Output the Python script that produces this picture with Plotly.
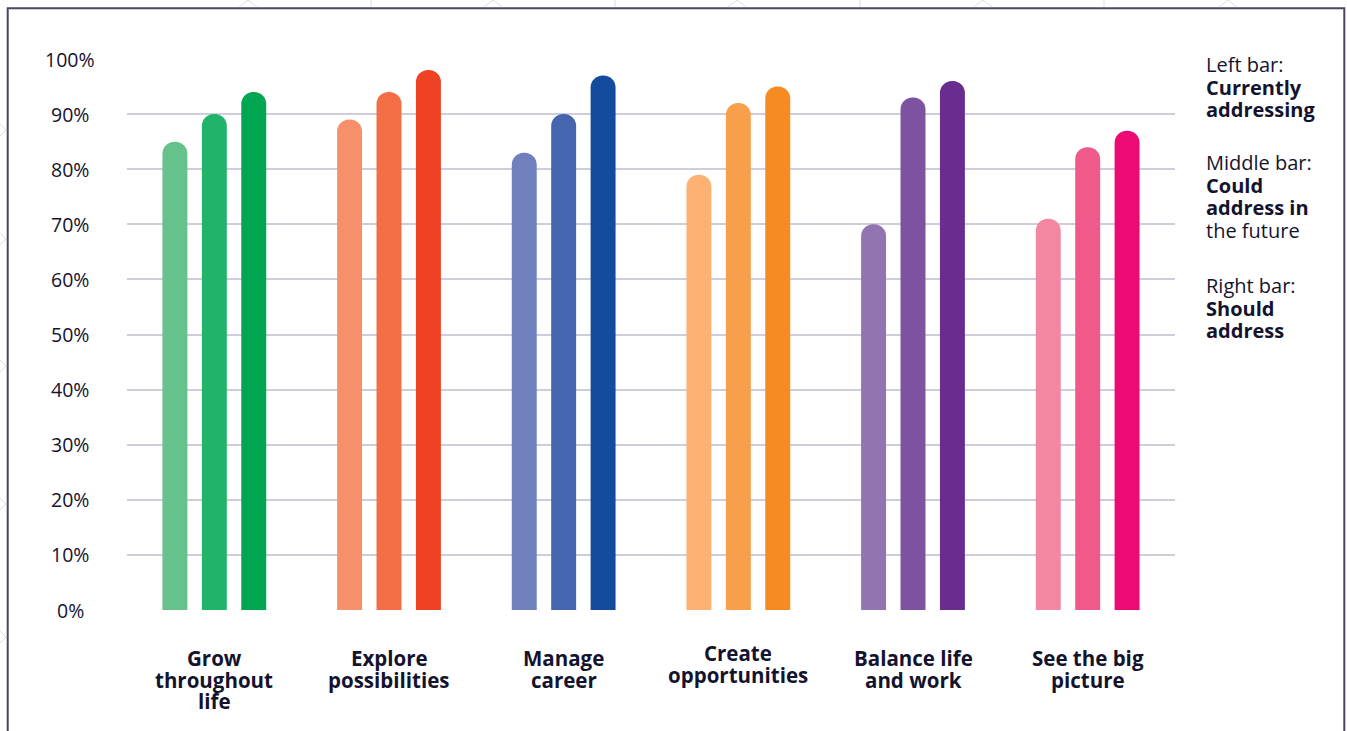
import plotly.graph_objects as go

# ---------------- data ----------------
categories = ["Grow throughout life", "Explore possibilities", "Manage career",
              "Create opportunities", "Balance life and work", "See the big picture"]
category_lines = [["Grow", "throughout", "life"], ["Explore", "possibilities"], ["Manage", "career"],
                  ["Create", "opportunities"], ["Balance life", "and work"], ["See the big", "picture"]]
series_names = ["Currently addressing", "Could address in the future", "Should address"]
currently = [85, 89, 83, 79, 70, 71]
could = [90, 94, 90, 92, 93, 84]
should = [94, 98, 97, 95, 96, 87]
y_ticks = [0, 10, 20, 30, 40, 50, 60, 70, 80, 90, 100]
y_tick_labels = ["0%", "10%", "20%", "30%", "40%", "50%", "60%", "70%", "80%", "90%", "100%"]
legend_blocks = [
    [("Left bar:", False), ("Currently", True), ("addressing", True)],
    [("Middle bar:", False), ("Could", True), ("address in", True), ("the future", False)],
    [("Right bar:", False), ("Should", True), ("address", True)],
]

# ---------------- styles ----------------
colors_left = ["#66c28d", "#f6906a", "#7080bd", "#fbb273", "#9175b0", "#f387a2"]
colors_mid = ["#22b36b", "#f36d45", "#4565ae", "#f89f4b", "#7d52a0", "#f05a8b"]
colors_right = ["#00a651", "#ef4123", "#134c9c", "#f68b24", "#692d8f", "#ec0a74"]
TEXT = "#14132e"
GRID = "#cfcdd9"
FONT = "Open Sans"

W, H = 1347, 731
L, R, T, B = 127, 1175, 59, 610


def px2x(px):
    return (px - L) / (R - L)


def px2y(py):
    return (B - py) / (B - T)


fig = go.Figure()
for name, vals, cols in zip(series_names, [currently, could, should],
                            [colors_left, colors_mid, colors_right]):
    fig.add_trace(go.Bar(x=categories, y=vals, name=name,
                         marker=dict(color=cols, cornerradius="50%", line=dict(width=0)),
                         hoverinfo="x+y"))

annotations = []
# y tick labels (centred around x=70px)
for v, lab in zip(y_ticks, y_tick_labels):
    annotations.append(dict(x=px2x(70), xref="paper", y=v, yref="y", text=lab,
                            showarrow=False, xanchor="center", yanchor="middle",
                            font=dict(family=FONT, size=19.5, color=TEXT)))

# category labels
cat_size = 20.5
line_gap = 21.5
for cat, lines in zip(categories, category_lines):
    base0 = 661 if cat.startswith("Create") else 666
    for i, ln in enumerate(lines):
        baseline = base0 + i * line_gap
        annotations.append(dict(x=cat, xref="x", y=px2y(baseline - 0.38 * cat_size), yref="paper",
                                text="<b>" + ln + "</b>", showarrow=False,
                                xanchor="center", yanchor="middle", borderpad=0,
                                font=dict(family=FONT, size=cat_size, color=TEXT)))

# legend text on the right
leg_size = 20
block_starts = [72, 170, 293]
for start, block in zip(block_starts, legend_blocks):
    for i, (txt, bold) in enumerate(block):
        baseline = start + i * 22.7
        annotations.append(dict(x=px2x(1205), xref="paper", y=px2y(baseline - 0.38 * leg_size),
                                yref="paper", text=("<b>%s</b>" % txt) if bold else txt,
                                showarrow=False, xanchor="left", yanchor="middle", borderpad=0,
                                font=dict(family=FONT, size=leg_size, color=TEXT)))

shapes = []
# frame
shapes.append(dict(type="rect", xref="paper", yref="paper",
                   x0=px2x(7.7), x1=px2x(1344.3), y0=px2y(745), y1=px2y(8.3),
                   line=dict(color="#4a4763", width=2), fillcolor="rgba(0,0,0,0)"))
# faint background pattern outside the frame
PAT = "#dcdbe3"
for vx in [371, 615, 860, 1104]:
    shapes.append(dict(type="line", xref="paper", yref="paper", x0=px2x(vx), x1=px2x(vx),
                       y0=px2y(0), y1=px2y(7), line=dict(color=PAT, width=1)))
for cx in [248, 493, 737, 983, 1228]:
    shapes.append(dict(type="path", xref="paper", yref="paper",
                       path="M %f,%f L %f,%f L %f,%f" % (px2x(cx - 9), px2y(7), px2x(cx), px2y(0),
                                                         px2x(cx + 9), px2y(7)),
                       line=dict(color=PAT, width=1)))
for cy in [130, 239, 366, 504, 637]:
    shapes.append(dict(type="path", xref="paper", yref="paper",
                       path="M %f,%f L %f,%f L %f,%f" % (px2x(0), px2y(cy - 6), px2x(6), px2y(cy),
                                                         px2x(0), px2y(cy + 6)),
                       line=dict(color=PAT, width=1)))

fig.update_layout(
    width=W, height=H,
    margin=dict(l=L, r=W - R, t=T, b=H - B, pad=0),
    paper_bgcolor="white", plot_bgcolor="white",
    barmode="group", bargap=0.323, bargroupgap=0.367,
    showlegend=False,
    font=dict(family=FONT, color=TEXT),
    xaxis=dict(showticklabels=False, showgrid=False, zeroline=False, showline=False,
               ticks="", fixedrange=True),
    yaxis=dict(range=[0, 100], tickvals=y_ticks, showticklabels=False, showgrid=True,
               gridcolor=GRID, gridwidth=1.6, zeroline=False, showline=False, ticks="",
               fixedrange=True),
    annotations=annotations,
    shapes=shapes,
)

fig.write_html("out.html")
